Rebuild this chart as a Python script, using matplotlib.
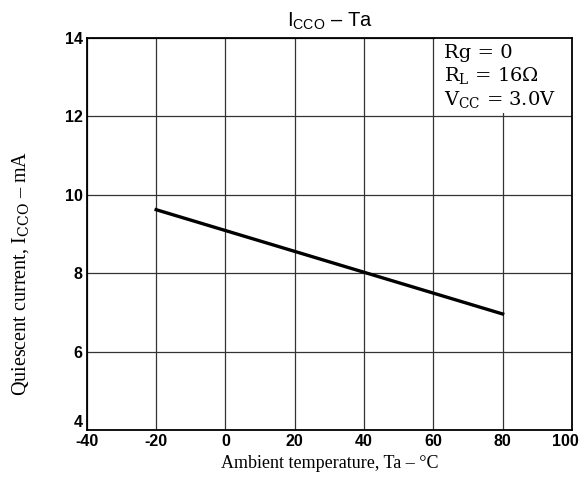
import matplotlib
matplotlib.use('Agg')
from matplotlib import pyplot as plt
from matplotlib.patches import Rectangle
from matplotlib.transforms import ScaledTranslation

# data
temps = [-20, 80]
icco = [9.62, 6.96]
x_ticks = [-40, -20, 0, 20, 40, 60, 80, 100]
y_ticks = [4, 6, 8, 10, 12, 14]
conditions = ['Rg = 0', 'R$_\\mathrm{L}$ = 16\u03a9', 'V$_\\mathrm{CC}$ = 3.0V']

plt.rcParams['mathtext.fontset'] = 'custom'
plt.rcParams['mathtext.rm'] = 'DejaVu Serif'
plt.rcParams['mathtext.it'] = 'DejaVu Serif:italic'
plt.rcParams['mathtext.sf'] = 'Liberation Sans'
plt.rcParams['axes.unicode_minus'] = False

fig = plt.figure(figsize=(5.83, 4.87), dpi=100)
ax = fig.add_axes([0.149, 0.117, 0.832, 0.805])

ax.plot(temps, icco, c='black', lw=2.4, zorder=3)

ax.set_xlim(-40, 100)
ax.set_ylim(4, 14)
ax.set_xticks(x_ticks)
ax.set_yticks(y_ticks)
ax.set_axisbelow(True)
ax.grid(True, color='#333333', lw=0.9)
ax.tick_params(length=0, labelsize=11.5, pad=3)
for lbl in ax.get_xticklabels() + ax.get_yticklabels():
    lbl.set_family('Liberation Sans')
    lbl.set_fontweight('bold')
ax.get_yticklabels()[0].set_va('bottom')
last = ax.get_xticklabels()[-1]
last.set_transform(last.get_transform() + ScaledTranslation(-5 / 72, 0, fig.dpi_scale_trans))
for s in ax.spines.values():
    s.set_linewidth(1.3)

# white box over the top right cell, conditions text
ax.add_patch(Rectangle((60.6, 12.08), 39.3, 1.95, facecolor='white', edgecolor='none', zorder=1))
ax.text(0.737, 0.985, '\n'.join(conditions), transform=ax.transAxes, ha='left', va='top',
        family='DejaVu Serif', fontsize=14, linespacing=1.2, zorder=4)

ax.set_title('$\\mathsf{I_{CCO}}$ – Ta', family='Liberation Sans', fontsize=14.5, pad=8)
ax.set_xlabel('Ambient temperature, Ta – °C', family='Liberation Serif', fontsize=13, labelpad=4)
ax.set_ylabel('Quiescent current, I$_\\mathrm{CCO}$ – mA', family='Liberation Serif', fontsize=14.5)
ax.yaxis.set_label_coords(-0.115, 0.4)

plt.savefig('out.png', dpi=100)
